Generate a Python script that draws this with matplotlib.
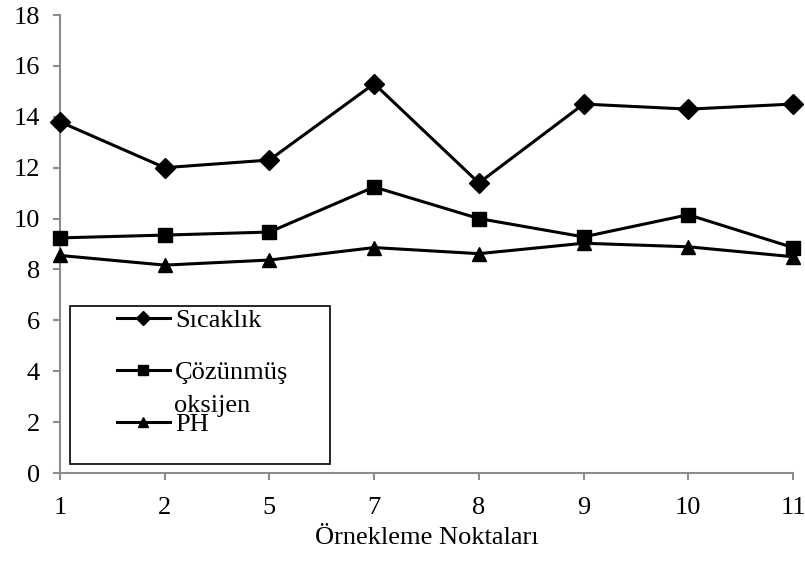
import matplotlib.pyplot as plt
from matplotlib.patches import Rectangle

# Örnekleme noktaları ve ölçülen değerler
noktalar = ['1', '2', '5', '7', '8', '9', '10', '11']
sicaklik = [13.8, 12.0, 12.3, 15.3, 11.4, 14.5, 14.3, 14.5]
oksijen = [9.24, 9.35, 9.47, 11.24, 10.0, 9.28, 10.15, 8.86]
ph = [8.55, 8.17, 8.37, 8.86, 8.62, 9.03, 8.89, 8.5]

y_ticks = [0, 2, 4, 6, 8, 10, 12, 14, 16, 18]


def grafik_ciz():
    plt.rcParams['font.family'] = ['Liberation Serif', 'DejaVu Serif']
    plt.rcParams['font.size'] = 19

    fig = plt.figure(figsize=(8.05, 5.63), dpi=100)
    ax = fig.add_axes([60 / 805, 1 - 473 / 563, 733 / 805, 458 / 563])

    x = list(range(len(noktalar)))
    ax.plot(x, sicaklik, color='black', lw=2.2, marker='D', ms=10,
            label='Sıcaklık', clip_on=False, zorder=3)
    ax.plot(x, oksijen, color='black', lw=2.2, marker='s', ms=10.5,
            label='Çözünmüş', clip_on=False, zorder=3)
    ax.plot(x, ph, color='black', lw=2.2, marker='^', ms=10.5,
            label='PH', clip_on=False, zorder=3)

    ax.set_xlim(0, len(noktalar) - 1)
    ax.set_ylim(0, 18)
    ax.set_xticks(x)
    ax.set_xticklabels(noktalar)
    ax.set_yticks(y_ticks)

    gri = '#8c8c8c'
    for s in ['top', 'right']:
        ax.spines[s].set_visible(False)
    for s in ['left', 'bottom']:
        ax.spines[s].set_color(gri)
        ax.spines[s].set_linewidth(1.5)
    ax.tick_params(axis='both', direction='out', length=5, width=1.5,
                   color=gri, labelsize=19)
    ax.tick_params(axis='x', pad=12.5)
    ax.tick_params(axis='y', pad=9.5)

    ax.set_xlabel('Örnekleme Noktaları', fontsize=19, labelpad=5.5)

    # lejant kutusu
    kutu = Rectangle((10 / 733, 9 / 458), 260 / 733, 158 / 458,
                     transform=ax.transAxes, facecolor='white',
                     edgecolor='black', lw=1.2, zorder=4)
    ax.add_patch(kutu)
    leg = ax.legend(loc='upper left', bbox_to_anchor=(57 / 733, 164 / 458),
                    frameon=False, borderpad=0, borderaxespad=0,
                    handlelength=2.0, handletextpad=0.2, labelspacing=1.08,
                    markerscale=0.75, fontsize=19)
    leg.set_zorder(5)
    ax.text(114 / 733, 67 / 458, 'oksijen', transform=ax.transAxes,
            fontsize=19, va='center', ha='left', zorder=5)

    fig.savefig('out.png', dpi=100)


if __name__ == "__main__":
    grafik_ciz()
